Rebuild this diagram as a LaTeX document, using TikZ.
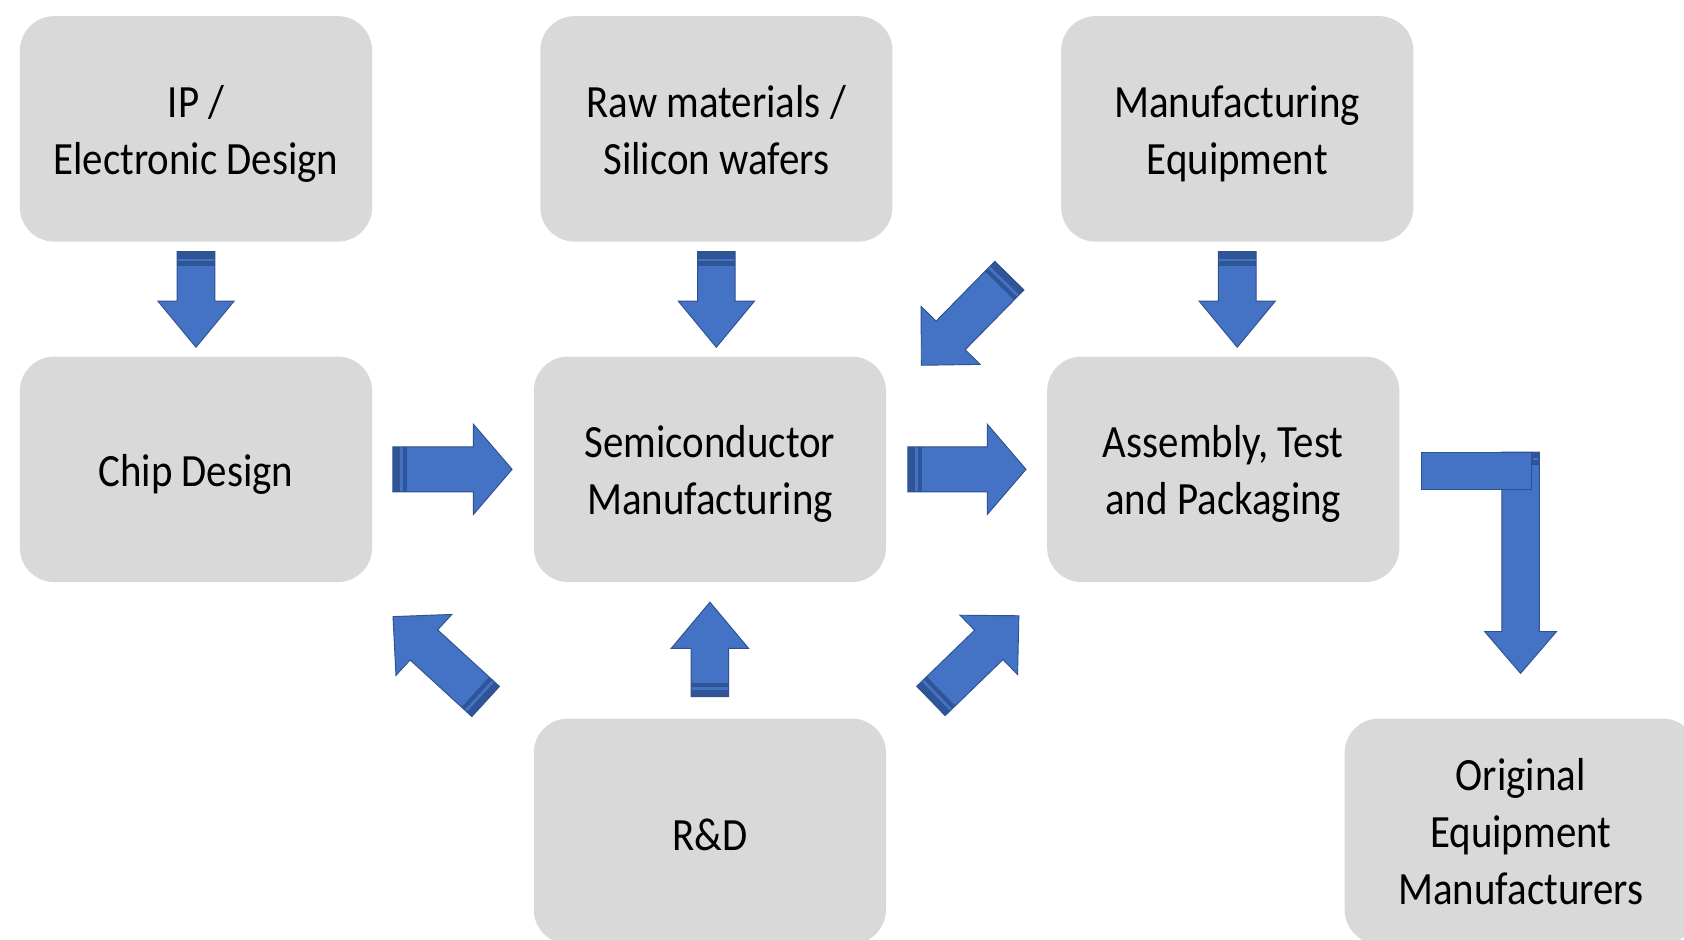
\documentclass[tikz,border=0pt]{standalone}
\usepackage{fontspec}
\setmainfont{Carlito}[FakeStretch=0.885]
\usetikzlibrary{calc}
\definecolor{boxgray}{HTML}{D9D9D9}
\definecolor{ablue}{HTML}{4472C4}
\definecolor{aedge}{HTML}{2F528F}
\definecolor{aband}{HTML}{2F5597}
\tikzset{
  box/.style={fill=boxgray, rounded corners=0.64cm, minimum width=6.56cm,
    minimum height=4.2cm, inner sep=0pt},
  lbl/.style={inner sep=0pt, align=center,
    font=\fontsize{24.5}{30.2}\selectfont},
  pics/barrow/.style n args={4}{code={
    % #1 length, #2 shaft half width, #3 head half width, #4 head length
    \fill[ablue] (0,-#2) -- ({#1-#4},-#2) -- ({#1-#4},-#3) -- (#1,0) -- ({#1-#4},#3) -- ({#1-#4},#2) -- (0,#2) -- cycle;
    \fill[aband] (0,-#2) rectangle (13,#2);
    \fill[ablue] (6.5,-#2) rectangle (9,#2);
    \draw[aedge, line width=0.5pt] (0,-#2) -- ({#1-#4},-#2) -- ({#1-#4},-#3) -- (#1,0) -- ({#1-#4},#3) -- ({#1-#4},#2) -- (0,#2) -- cycle;
  }}
}
\begin{document}
\begin{tikzpicture}[x=0.02cm, y=-0.02cm]
\clip (0,0) rectangle (1568,875);
\fill[white] (0,0) rectangle (1568,875);

\node[box] (ip)   at (182.5,120) {};
\node[box] (raw)  at (667,120)   {};
\node[box] (meq)  at (1152,120)  {};
\node[box] (chip) at (182.5,437) {};
\node[box] (semi) at (661,437)   {};
\node[box] (atp)  at (1139,437)  {};
\node[box] (rd)   at (661,774)   {};
\node[box] (oem)  at (1416,774)  {};

\node[lbl] (ipT)   at ($(ip)+(0,4.5)$)   {IP /\\Electronic Design};
\node[lbl] (rawT)  at ($(raw)+(0,1.5)$)  {Raw materials /\\Silicon wafers};
\node[lbl] (meqT)  at ($(meq)+(0,4.5)$)  {Manufacturing\\Equipment};
\node[lbl] (chipT) at ($(chip)+(0,4.5)$) {Chip Design};
\node[lbl] (semiT) at ($(semi)+(0,4.5)$) {Semiconductor\\Manufacturing};
\node[lbl] (atpT)  at ($(atp)+(0,4.5)$)  {Assembly, Test\\and Packaging};
\node[lbl] (rdT)   at ($(rd)+(0,3)$)     {R\&D};
\node[lbl] (oemT)  at ($(oem)+(0,0.5)$)  {Original\\Equipment\\Manufacturers};

% down arrows
\pic[rotate=-90] at ($(ip.south)+(0,9)$)  {barrow={89}{17.5}{35.5}{43}};
\pic[rotate=-90] at ($(raw.south)+(0,9)$) {barrow={89}{17.5}{35.5}{43}};
\pic[rotate=-90] at ($(meq.south)+(0,9)$) {barrow={89}{17.5}{35.5}{43}};
% right arrows
\pic at ($(chip.east)+(19,0)$) {barrow={111}{21}{42}{36}};
\pic at ($(semi.east)+(20,0)$) {barrow={110}{21}{42}{36}};
% up arrow from R&D
\pic[rotate=90] at ($(rd.north)+(0,-20)$) {barrow={88}{17.5}{36}{43}};
% diagonal arrows
\pic[rotate=-134.5] at ($(semi.north east)+(114.5,-75)$) {barrow={117}{19}{38.5}{39}};
\pic[rotate=137.5] at ($(rd.north west)+(-44.5,-15.5)$) {barrow={117}{19}{38.5}{39}};
\pic[rotate=44.1] at ($(rd.north east)+(41.5,-16)$) {barrow={114}{19}{38.5}{39}};

% bent arrow to OEM
\coordinate (b0) at ($(atp.east)+(20,-16)$);
\begin{scope}[shift={(b0)}]
  \filldraw[fill=ablue, draw=aedge, line width=0.5pt]
    (75,0) -- (110,0) -- (110,167) -- (126,167) -- (92.5,206) -- (59,167) -- (75,167) -- cycle;
  \filldraw[fill=aband, draw=aedge, line width=0.4pt] (103,1) rectangle (110,11);
  \fill[ablue] (104,5) rectangle (109,7);
  \filldraw[fill=ablue, draw=aedge, line width=0.6pt] (0,0) rectangle (103,35);
\end{scope}
\end{tikzpicture}
\end{document}
